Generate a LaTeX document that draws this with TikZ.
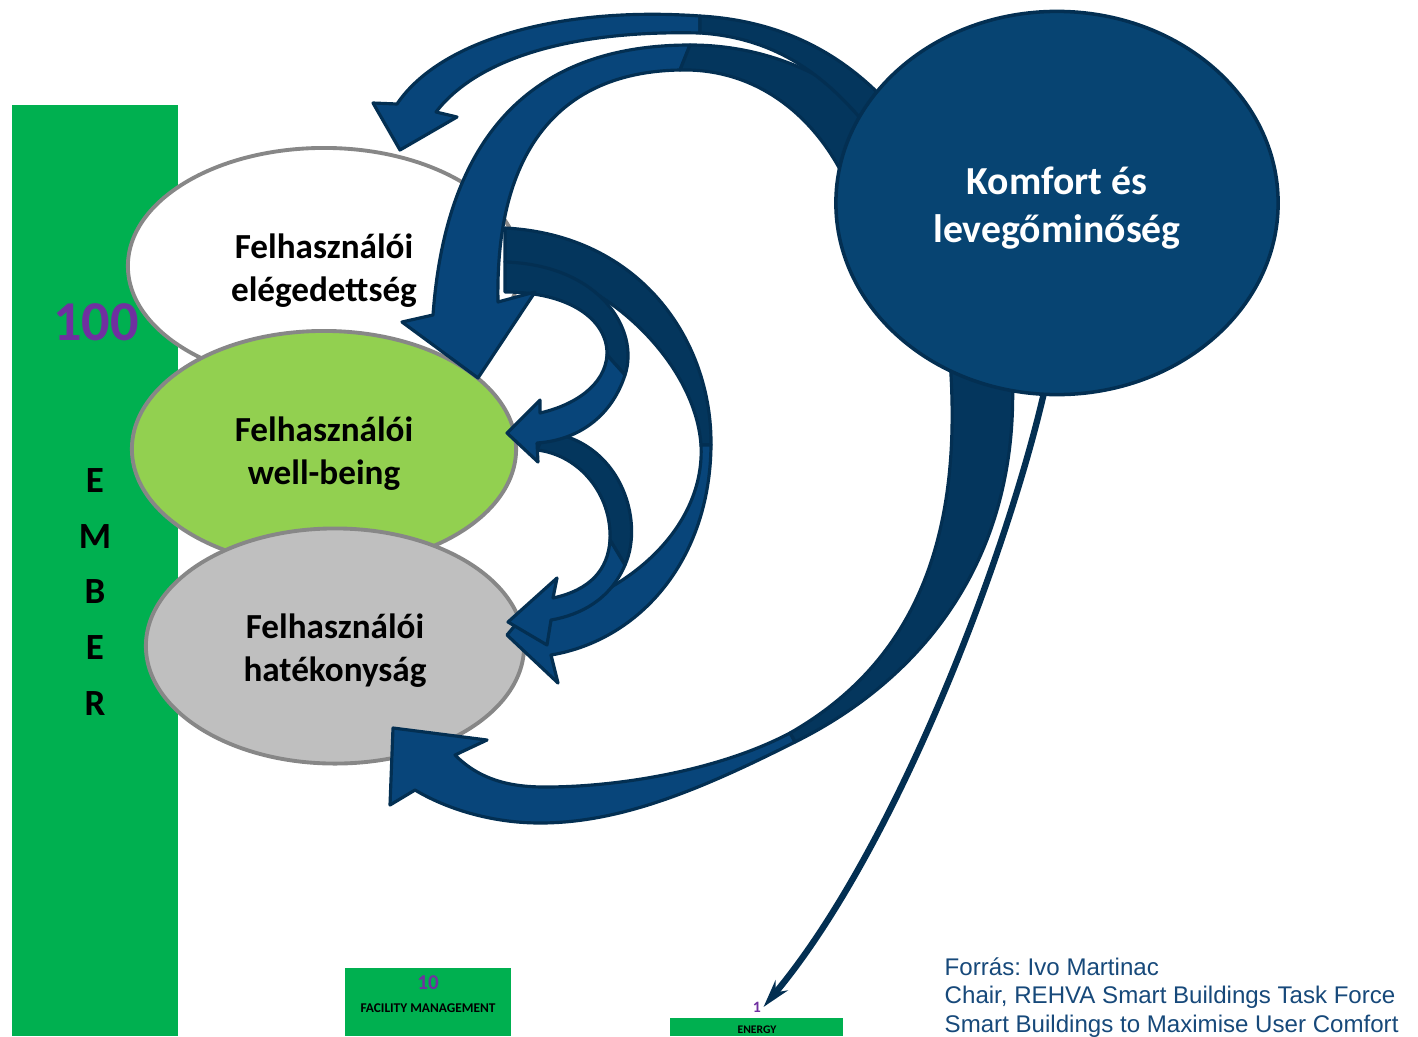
\documentclass[tikz,border=0pt]{standalone}
\usepackage{fontspec}
\setmainfont{Carlito}
\newfontfamily\srcfont{Liberation Sans}
\usetikzlibrary{shapes.geometric,arrows.meta}
\frenchspacing

\definecolor{barGreen}{HTML}{00B050}
\definecolor{wellGreen}{HTML}{92D050}
\definecolor{effGray}{HTML}{BFBFBF}
\definecolor{rimGray}{HTML}{878787}
\definecolor{numPurple}{HTML}{7030A0}
\definecolor{comfortBlue}{HTML}{074472}
\definecolor{arrowBlue}{HTML}{08457A}
\definecolor{arrowDark}{HTML}{04365D}
\definecolor{arrowEdge}{HTML}{032F52}
\definecolor{srcBlue}{HTML}{17497A}

% extra room above the first text line (pushes the label down a little)
\newcommand{\toppad}[1]{\rule{0pt}{#1}}

\tikzset{
  userell/.style={ellipse, draw=rimGray, line width=1.1pt, inner sep=0pt, outer sep=0pt,
    align=center, font=\fontsize{10}{12.2}\selectfont\bfseries},
  blockarrow/.style={fill=arrowBlue, draw=arrowEdge, line width=0.9pt, line join=round},
  darkarrow/.style={blockarrow, fill=arrowDark},
  energyline/.style={draw=arrowEdge, line width=1.8pt,
    -{Stealth[length=8pt,width=4.5pt]}},
}

\begin{document}
\begin{tikzpicture}[x=0.01cm, y=-0.01cm]
    \useasboundingbox (0,0) rectangle (1418,1036);

    % Green column (people)
    \fill[barGreen] (12,105) rectangle (178,1036);
    \node[font=\fontsize{16}{18}\selectfont\bfseries, text=numPurple] (hundred) at (96,322) {100};
    \node[font=\fontsize{10.5}{15.9}\selectfont\bfseries, align=center] (ember) at (95,592) {E\\M\\B\\E\\R};

    % Small green boxes at the bottom
    \fill[barGreen] (345,968) rectangle (511,1036);
    \node[font=\fontsize{6}{7}\selectfont\bfseries, text=numPurple] (ten) at (428,983) {10};
    \node[font=\fontsize{3.8}{4.5}\selectfont\bfseries] (fm) at (428,1008) {FACILITY MANAGEMENT};
    \fill[barGreen] (670,1018) rectangle (843,1036);
    \node[font=\fontsize{4.5}{5}\selectfont\bfseries, text=numPurple, inner sep=0.5pt] (one) at (757,1007) {1};
    \node[font=\fontsize{3.3}{4}\selectfont\bfseries] (energy) at (757,1030) {ENERGY};

    % User ellipses
    \node[userell, fill=white, minimum width=3.92cm, minimum height=2.36cm] (satisfaction) at (324,266) {\toppad{9.8pt}Felhasználói\\elégedettség};
    \node[userell, fill=wellGreen, minimum width=3.84cm, minimum height=2.36cm] (wellbeing) at (324,449) {\toppad{9.8pt}Felhasználói\\well-being};
    \node[userell, fill=effGray, minimum width=3.78cm, minimum height=2.35cm] (efficiency) at (335,646) {\toppad{9.8pt}Felhasználói\\hatékonyság};

    % Arrow D (wide arc down to efficiency)
    \filldraw[darkarrow] (505,228) .. controls (640,235) and (712,340) .. (711,445)
        -- (701,445) .. controls (695,360) and (600,270) .. (505,262) -- cycle;
    \filldraw[blockarrow] (711,445) .. controls (710,560) and (640,640) .. (551,655) -- (558,683) -- (507,635)
        -- (538,598) -- (542,615) .. controls (640,590) and (705,520) .. (701,445) -- cycle;
    % Arrow F (well-being to efficiency)
    \filldraw[darkarrow] (537,450) .. controls (580,455) and (612,495) .. (610,540)
        -- (625,565) .. controls (645,520) and (620,440) .. (545,432) -- cycle;
    \filldraw[blockarrow] (610,540) .. controls (608,570) and (590,590) .. (553,598) -- (557,578) -- (508,622)
        -- (547,645) -- (551,620) .. controls (580,615) and (610,600) .. (625,565) -- cycle;
    % Arrow E (small arc to well-being)
    \filldraw[darkarrow] (505,262) .. controls (600,265) and (640,330) .. (625,375)
        -- (607,355) .. controls (608,320) and (570,292) .. (505,292) -- cycle;
    \filldraw[blockarrow] (625,375) .. controls (612,415) and (580,440) .. (537,443) -- (538,462) -- (507,433)
        -- (540,400) -- (540,413) .. controls (575,405) and (605,385) .. (607,355) -- cycle;
    % Arrow B (comfort to well-being)
    \filldraw[blockarrow] (690,45) .. controls (520,45) and (445,150) .. (433,315) -- (402,322) -- (478,378)
        -- (535,292) -- (498,302) .. controls (495,150) and (560,72) .. (680,70) -- cycle;
    \filldraw[darkarrow] (870,110) .. controls (820,70) and (760,45) .. (690,45)
        -- (680,70) .. controls (760,68) and (820,120) .. (850,190) -- cycle;
    % Arrow A (comfort to satisfaction)
    \filldraw[blockarrow] (700,16) .. controls (560,6) and (440,40) .. (397,104) -- (373,103) -- (400,150)
        -- (457,117) -- (436,112) .. controls (480,55) and (580,30) .. (700,33) -- cycle;
    \filldraw[darkarrow] (880,95) .. controls (830,45) and (770,20) .. (700,16)
        -- (700,33) .. controls (780,38) and (830,80) .. (870,130) -- cycle;
    % Arrow C (comfort to efficiency, from below)
    \filldraw[darkarrow] (1012,370) .. controls (1022,560) and (920,680) .. (795,742)
        -- (790,733) .. controls (900,670) and (965,560) .. (950,360) -- cycle;
    \filldraw[blockarrow] (795,742) .. controls (700,790) and (620,823) .. (540,823)
        .. controls (490,823) and (445,808) .. (415,790) -- (390,805) -- (393,728) -- (487,740) -- (455,755)
        .. controls (480,780) and (510,787) .. (545,787) .. controls (620,787) and (720,770) .. (790,733) -- cycle;

    % Comfort circle
    \node[ellipse, fill=comfortBlue, draw=arrowEdge, line width=1pt, inner sep=0pt, outer sep=0pt,
        minimum width=4.42cm, minimum height=3.83cm, align=center, text=white,
        font=\fontsize{11.3}{13.7}\selectfont\bfseries] (komfort) at (1057,203) {\toppad{10.8pt}Komfort és\\levegőminőség};

    % Thin arrow to energy
    \draw[energyline] (komfort.-94) .. controls (1005,560) and (895,850) .. (one.east);

    % Source
    \node[anchor=north west, inner sep=0pt, align=left, text=srcBlue,
        font=\srcfont\fontsize{6.85}{8.1}\selectfont] (source) at (944,957)
        {Forrás: Ivo Martinac\\Chair, REHVA Smart Buildings Task Force\\Smart Buildings to Maximise User Comfort};
\end{tikzpicture}
\end{document}
